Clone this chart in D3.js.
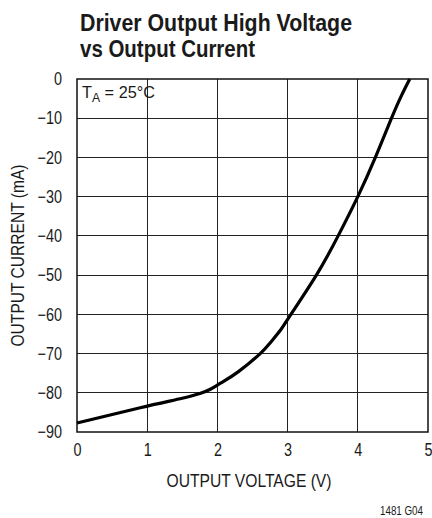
<!DOCTYPE html>
<html>
<head>
<meta charset="utf-8">
<script src="https://cdn.jsdelivr.net/npm/d3@7"></script>
<style>
  html, body { margin: 0; padding: 0; background: #fff; }
  svg { display: block; }
  text { font-family: "Liberation Sans", Arial, sans-serif; }
</style>
</head>
<body>
<script>
// ---- data ----
const titleLines = ["Driver Output High Voltage", "vs Output Current"];
const xTicks = [0, 1, 2, 3, 4, 5];
const yTicks = [0, -10, -20, -30, -40, -50, -60, -70, -80, -90];
const voltage = [0, 0.9, 1.5, 1.75, 1.9, 2.05, 2.3, 2.61, 2.75, 2.9, 3.04, 3.41, 3.72, 4.0, 4.25, 4.48, 4.62, 4.74];
const current = [-87.7, -83.8, -81.4, -80.2, -79.1, -77.5, -74.6, -70, -67.3, -64, -60.2, -50, -40, -30, -20, -10, -4.3, 0];
const xLabel = "OUTPUT VOLTAGE (V)";
const yLabel = "OUTPUT CURRENT (mA)";
const note = "1481 G04";

const W = 432, H = 518;
const m = { left: 77, top: 79, right: 428, bottom: 432 };

const svg = d3.select("body").append("svg").attr("width", W).attr("height", H);

const x = d3.scaleLinear().domain([0, 5]).range([m.left, m.right]);
const y = d3.scaleLinear().domain([-90, 0]).range([m.bottom, m.top]);

// condense text horizontally (emulates a condensed Helvetica)
function squeeze(sel, factor, fixed) {
  sel.each(function () {
    const w = fixed != null ? fixed : this.getComputedTextLength() * factor;
    d3.select(this).attr("textLength", w).attr("lengthAdjust", "spacingAndGlyphs");
  });
}

// title
const titleW = [272, 175];
svg.selectAll("text.title").data(titleLines).join("text")
  .attr("class", "title")
  .attr("x", 80).attr("y", (d, i) => 31 + i * 26)
  .attr("font-size", 24).attr("font-weight", "bold").attr("fill", "#1a1a1a")
  .text(d => d)
  .each(function (d, i) { squeeze(d3.select(this), null, titleW[i]); });

// grid
const g = svg.append("g");
g.selectAll("line.vx").data(xTicks.slice(1, -1)).join("line")
  .attr("x1", d => x(d)).attr("x2", d => x(d))
  .attr("y1", m.top).attr("y2", m.bottom)
  .attr("stroke", "#222").attr("stroke-width", 1).attr("shape-rendering", "crispEdges");
g.selectAll("line.hy").data(yTicks.slice(1, -1)).join("line")
  .attr("y1", d => y(d)).attr("y2", d => y(d))
  .attr("x1", m.left).attr("x2", m.right)
  .attr("stroke", "#222").attr("stroke-width", 1).attr("shape-rendering", "crispEdges");

// axes (labels only, via d3 axes)
const xAxis = svg.append("g").attr("transform", `translate(0,${m.bottom})`)
  .call(d3.axisBottom(x).tickValues(xTicks).tickSize(0).tickPadding(11).tickFormat(d3.format("d")));
const yAxis = svg.append("g").attr("transform", `translate(${m.left},0)`)
  .call(d3.axisLeft(y).tickValues(yTicks).tickSize(0).tickPadding(15)
    .tickFormat(d => d < 0 ? "\u2212" + Math.abs(d) : String(d)));
[xAxis, yAxis].forEach(a => {
  a.select(".domain").remove();
  a.selectAll("text").attr("font-size", 18).attr("fill", "#1a1a1a")
    .attr("font-family", "'Liberation Sans', Arial, sans-serif");
  squeeze(a.selectAll("text"), 0.8);
});

// frame
svg.append("rect")
  .attr("x", m.left).attr("y", m.top)
  .attr("width", m.right - m.left).attr("height", m.bottom - m.top)
  .attr("fill", "none").attr("stroke", "#111").attr("stroke-width", 1.5);

// curve
const pts = voltage.map((v, i) => [v, current[i]]);
svg.append("path")
  .datum(pts)
  .attr("d", d3.line().x(d => x(d[0])).y(d => y(d[1])).curve(d3.curveNatural))
  .attr("fill", "none").attr("stroke", "#000").attr("stroke-width", 3.2)
  .attr("stroke-linejoin", "round");

// annotation T_A = 25°C
const ta = svg.append("text").attr("x", 82).attr("y", 98).attr("font-size", 16).attr("fill", "#1a1a1a");
ta.append("tspan").text("T");
ta.append("tspan").attr("font-size", 12).attr("dy", 4).text("A");
ta.append("tspan").attr("dy", -4).text(" = 25\u00B0C");
squeeze(ta, null, 73);

// axis titles
const xt = svg.append("text")
  .attr("x", 249).attr("y", 487)
  .attr("text-anchor", "middle").attr("font-size", 19).attr("fill", "#1a1a1a")
  .text(xLabel);
squeeze(xt, null, 165);
const yt = svg.append("text")
  .attr("transform", `translate(24,${(m.top + m.bottom) / 2}) rotate(-90)`)
  .attr("text-anchor", "middle").attr("font-size", 19).attr("fill", "#1a1a1a")
  .text(yLabel);
squeeze(yt, null, 182);

// footnote
const ft = svg.append("text")
  .attr("x", 423).attr("y", 515).attr("text-anchor", "end")
  .attr("font-size", 12).attr("fill", "#1a1a1a")
  .text(note);
squeeze(ft, null, 43);
</script>
</body>
</html>
